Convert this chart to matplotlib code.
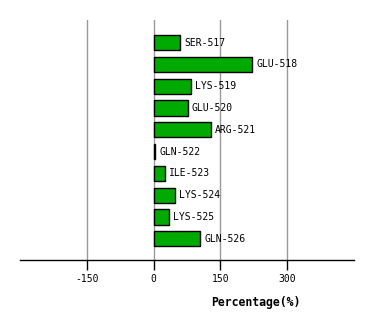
import matplotlib
matplotlib.use("Agg")
import matplotlib.pyplot as plt

# Datos
residuos = ['SER-517', 'GLU-518', 'LYS-519', 'GLU-520', 'ARG-521',
            'GLN-522', 'ILE-523', 'LYS-524', 'LYS-525', 'GLN-526']
porcentaje = [59, 222, 84, 77, 129, 4, 26, 48, 35, 105]
ticks_x = [-150, 0, 150, 300]

fig = plt.figure(figsize=(3.74, 3.2), dpi=100)
ax = fig.add_axes([20 / 374, 60 / 320, 334 / 374, 240 / 320])

pos = list(range(len(residuos)))
ax.barh(pos, porcentaje, height=0.7, color='#00aa00', edgecolor='black',
        linewidth=1, zorder=3)
for y, v, nombre in zip(pos, porcentaje, residuos):
    ax.text(v + 9, y, nombre, va='center', ha='left', fontsize=7,
            family='DejaVu Sans Mono', zorder=4)

ax.set_xlim(-300, 450)
ax.set_ylim(9.97, -1.04)
ax.set_xticks(ticks_x)
ax.set_xticklabels([str(t) for t in ticks_x], family='DejaVu Sans Mono', fontsize=7)
ax.set_yticks([])
ax.grid(axis='x', color='#999999', linewidth=1, zorder=0)
for lado in ['top', 'right', 'left']:
    ax.spines[lado].set_visible(False)
ax.spines['bottom'].set_linewidth(1)
ax.tick_params(axis='x', length=7, width=1, pad=3)

ax.set_xlabel('Percentage(%)', fontsize=8.3, fontweight='bold', family='DejaVu Sans Mono')
ax.xaxis.set_label_coords(0.705, -0.15)

fig.savefig('out.png', dpi=100)
